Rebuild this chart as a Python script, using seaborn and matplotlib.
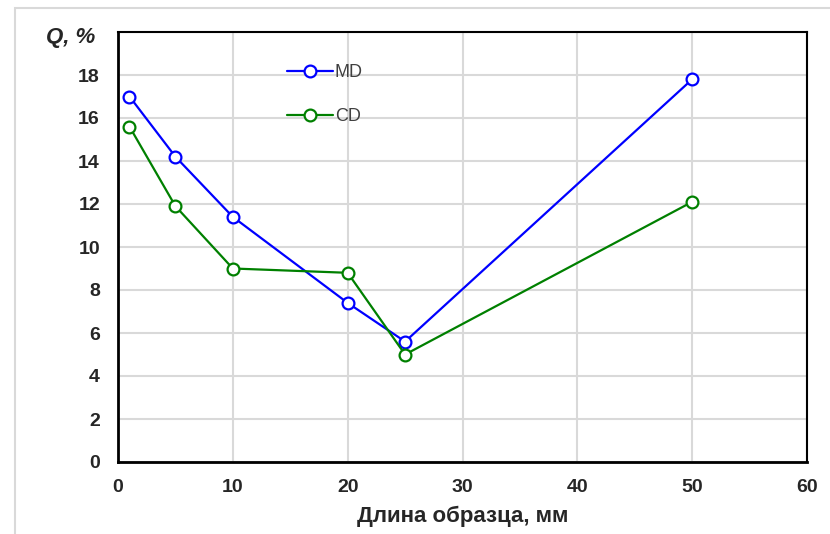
import matplotlib
matplotlib.use("Agg")
import matplotlib.pyplot as plt
import seaborn as sns
import pandas as pd
from matplotlib.patches import Rectangle

lengths = [1, 5, 10, 20, 25, 50]
md_values = [17.0, 14.2, 11.4, 7.4, 5.6, 17.8]
cd_values = [15.6, 11.9, 9.0, 8.8, 5.0, 12.1]
series_names = ["MD", "CD"]
x_ticks = [0, 10, 20, 30, 40, 50, 60]
y_ticks = [0, 2, 4, 6, 8, 10, 12, 14, 16, 18]

df = pd.DataFrame({
    "x": lengths * 2,
    "y": md_values + cd_values,
    "s": [series_names[0]] * len(lengths) + [series_names[1]] * len(lengths),
})

sns.set_style("white")
plt.rcParams["font.family"] = ["Liberation Sans", "DejaVu Sans"]

fig = plt.figure(figsize=(8.3, 5.34), dpi=100)
ax = fig.add_axes([118/830, 1-462/534, (807-118)/830, (462-32)/534])

colors = {"MD": "#0000FF", "CD": "#008000"}
for name in series_names:
    sub = df[df["s"] == name]
    sns.lineplot(data=sub, x="x", y="y", ax=ax, color=colors[name], lw=1.6,
                 marker="o", markersize=8.5, markerfacecolor="white",
                 markeredgecolor=colors[name], markeredgewidth=1.6, label=name,
                 zorder=3)

ax.set_xlim(0, 60)
ax.set_ylim(0, 20)
ax.set_xticks(x_ticks)
ax.set_yticks(y_ticks + [20])
ax.set_yticklabels([str(v) for v in y_ticks] + [""])
ax.set_xticklabels([str(v) for v in x_ticks])
ax.grid(True, color="#d9d9d9", lw=1.5)
ax.set_axisbelow(True)
ax.tick_params(length=0, labelsize=14)
for lab in ax.get_xticklabels() + ax.get_yticklabels():
    lab.set_fontweight("bold")
ax.tick_params(axis="x", pad=12)
ax.tick_params(axis="y", pad=13)
for side in ["left", "bottom"]:
    ax.spines[side].set_color("black")
    ax.spines[side].set_linewidth(2)
for side in ["top", "right"]:
    ax.spines[side].set_color("black")
    ax.spines[side].set_linewidth(1.5)
    ax.spines[side].set_visible(True)

ax.set_xlabel("Длина образца, мм", fontsize=16, fontweight="bold", labelpad=7)
ax.set_ylabel("")

fig.text(95/830, 1-38/534, "Q, %", fontsize=16, fontweight="bold", fontstyle="italic",
         ha="right", va="center")

leg = ax.legend(loc="upper left", bbox_to_anchor=(0.245, 0.925), frameon=False,
                fontsize=13, handlelength=2.55, handletextpad=0.1,
                labelspacing=1.5, borderpad=0, borderaxespad=0)
for t in leg.get_texts():
    t.set_color("#404040")

fig.patches.append(Rectangle((15/830, -0.1), 1.2, 1.1 - 8/534,
                             transform=fig.transFigure, fill=False,
                             edgecolor="#d9d9d9", lw=1.5, figure=fig))

fig.savefig("out.png", dpi=100)
